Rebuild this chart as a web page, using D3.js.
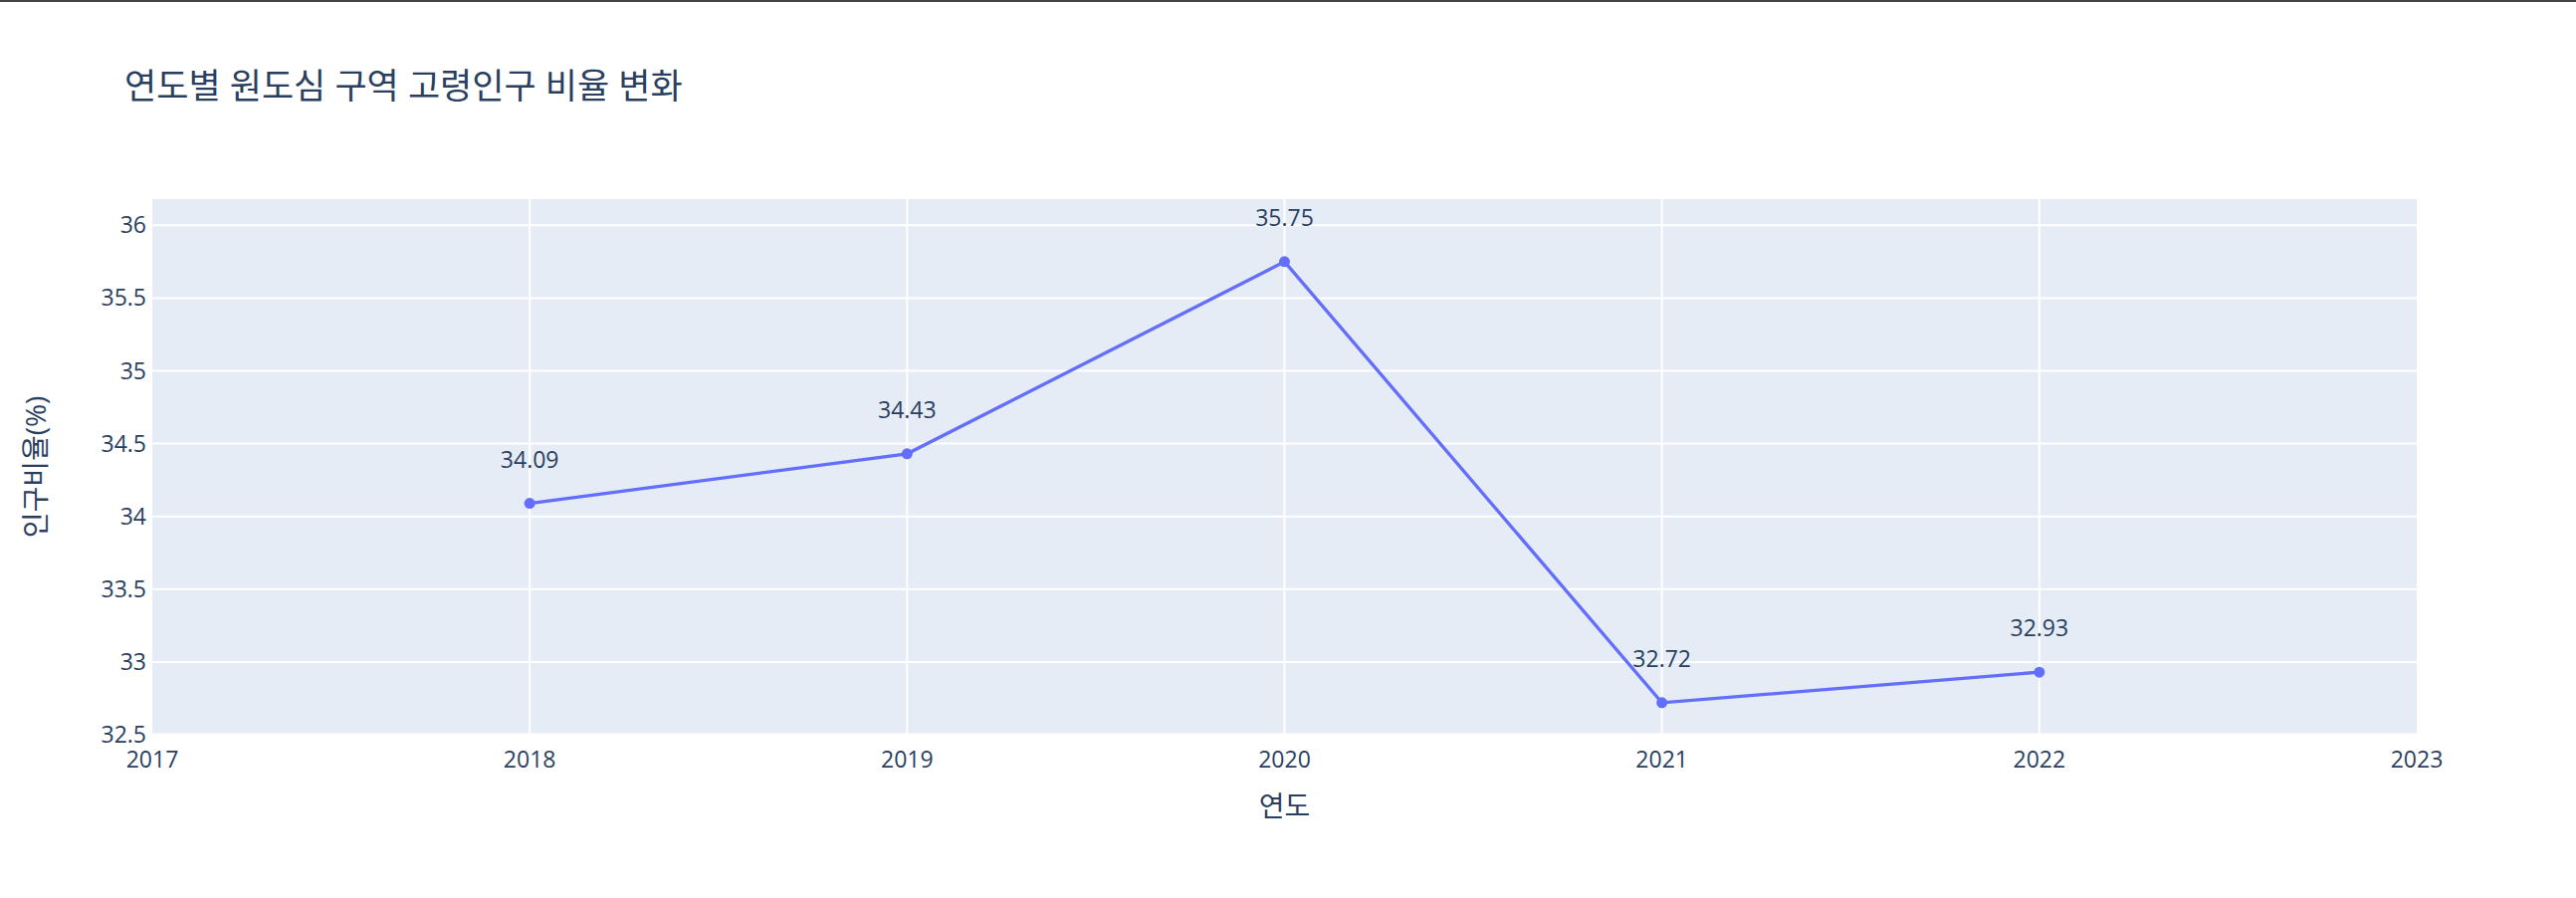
<!DOCTYPE html>
<html><head><meta charset="utf-8">
<script src="https://cdn.jsdelivr.net/npm/d3@7"></script>
<style>body{margin:0;background:#fff}text{font-family:"Open Sans","Noto Sans CJK KR",sans-serif;fill:#2a3f5f}</style>
</head><body><svg id="c" width="2588" height="902"></svg>
<script>
const years = [2018, 2019, 2020, 2021, 2022];
const ratios = [34.09, 34.43, 35.75, 32.72, 32.93];
const xTicks = [2017, 2018, 2019, 2020, 2021, 2022, 2023];
const yTicks = [32.5, 33, 33.5, 34, 34.5, 35, 35.5, 36];

const W = 2588, H = 902;
const m = {l: 153, r: 160, t: 200, b: 164};
const svg = d3.select("#c");
svg.append("rect").attr("width", W).attr("height", 2).attr("fill", "#444");

const x = d3.scaleLinear().domain([2017, 2023]).range([m.l, W - m.r]);
const y = d3.scaleLinear().domain([32.5, 36.18]).range([H - m.b, m.t]);

svg.append("rect").attr("x", m.l).attr("y", m.t)
  .attr("width", x.range()[1] - m.l).attr("height", H - m.b - m.t).attr("fill", "#e5ecf6");

// grid
svg.append("g").selectAll("line").data(yTicks).join("line")
  .attr("x1", m.l).attr("x2", x.range()[1]).attr("y1", d => y(d)).attr("y2", d => y(d))
  .attr("stroke", "#fff").attr("stroke-width", d => d === 32.5 ? 3 : 2);
svg.append("g").selectAll("line").data(xTicks.slice(1, -1)).join("line")
  .attr("x1", d => x(d)).attr("x2", d => x(d)).attr("y1", m.t).attr("y2", H - m.b)
  .attr("stroke", "#fff").attr("stroke-width", 2);

// tick labels
svg.append("g").selectAll("text").data(yTicks).join("text")
  .attr("x", m.l - 6).attr("y", d => y(d)).attr("dy", "0.35em")
  .attr("text-anchor", "end").attr("font-size", 23).text(d => d);
svg.append("g").selectAll("text").data(xTicks).join("text")
  .attr("x", d => x(d)).attr("y", H - m.b + 33)
  .attr("text-anchor", "middle").attr("font-size", 23).text(d => d);

// line + markers
const pts = years.map((d, i) => [d, ratios[i]]);
svg.append("path").datum(pts)
  .attr("d", d3.line().x(d => x(d[0])).y(d => y(d[1])))
  .attr("fill", "none").attr("stroke", "#636efa").attr("stroke-width", 3.3);
svg.append("g").selectAll("circle").data(pts).join("circle")
  .attr("cx", d => x(d[0])).attr("cy", d => y(d[1])).attr("r", 5.5).attr("fill", "#636efa");
svg.append("g").selectAll("text").data(pts).join("text")
  .attr("x", d => x(d[0])).attr("y", d => y(d[1]) - 36)
  .attr("text-anchor", "middle").attr("font-size", 23).text(d => d[1].toFixed(2));

// titles
svg.append("text").attr("x", 125).attr("y", 99).attr("font-size", 35).text("연도별 원도심 구역 고령인구 비율 변화");
svg.append("text").attr("x", (m.l + x.range()[1]) / 2).attr("y", 820)
  .attr("text-anchor", "middle").attr("font-size", 28).text("연도");
svg.append("text").attr("transform", `translate(46,${(m.t + H - m.b) / 2}) rotate(-90)`)
  .attr("text-anchor", "middle").attr("font-size", 28).text("인구비율(%)");
</script></body></html>
